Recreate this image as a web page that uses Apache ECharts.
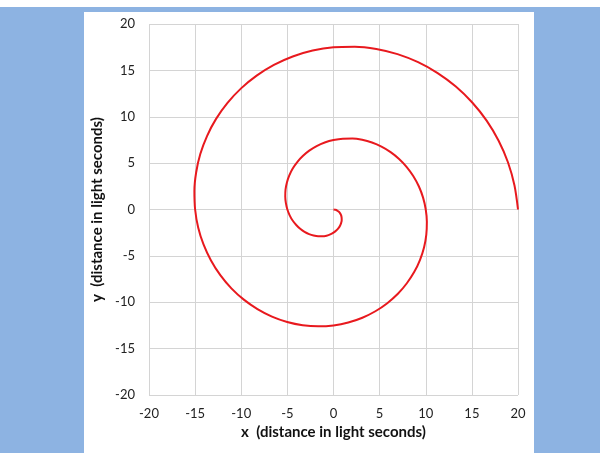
<!DOCTYPE html>
<html><head><meta charset="utf-8">
<script src="https://cdn.jsdelivr.net/npm/echarts@6/dist/echarts.min.js"></script>
<style>html,body{margin:0;padding:0;background:#fff;}#c{width:600px;height:453px;}</style>
</head><body><div id="c"></div>
<script>
// Spiral points (x, y in light seconds)
const xValues = [0,0.21,0.40,0.58,0.72,0.83,0.88,0.89,0.83,0.72,0.54,0.30,0,-0.35,-0.75,-1.20,-1.67,-2.16,-2.65,-3.14,-3.61,-4.04,-4.43,-4.75,-5,-5.16,-5.23,-5.20,-5.05,-4.79,-4.42,-3.93,-3.33,-2.63,-1.83,-0.95,0,1.01,2.05,3.11,4.17,5.20,6.19,7.11,7.94,8.66,9.26,9.71,10,10.12,10.06,9.82,9.38,8.76,7.95,6.98,5.83,4.54,3.13,1.60,0,-1.66,-3.34,-5.02,-6.67,-8.24,-9.72,-11.07,-12.27,-13.28,-14.09,-14.67,-15,-15.08,-14.89,-14.44,-13.71,-12.73,-11.49,-10.02,-8.33,-6.46,-4.42,-2.26,0,2.31,4.64,6.94,9.17,11.29,13.26,15.04,16.60,17.90,18.92,19.62,20];
const yValues = [0,-0.03,-0.11,-0.24,-0.42,-0.63,-0.88,-1.16,-1.44,-1.73,-2.01,-2.27,-2.5,-2.69,-2.82,-2.89,-2.89,-2.81,-2.65,-2.41,-2.08,-1.67,-1.19,-0.63,0,0.68,1.40,2.15,2.92,3.68,4.42,5.12,5.77,6.35,6.84,7.23,7.5,7.64,7.65,7.51,7.22,6.78,6.19,5.45,4.58,3.59,2.48,1.28,0,-1.33,-2.70,-4.07,-5.42,-6.72,-7.95,-9.09,-10.10,-10.97,-11.67,-12.19,-12.5,-12.60,-12.48,-12.13,-11.55,-10.74,-9.72,-8.50,-7.08,-5.50,-3.77,-1.93,0,1.99,3.99,5.98,7.92,9.77,11.49,13.06,14.43,15.59,16.50,17.14,17.5,17.56,17.31,16.75,15.88,14.71,13.26,11.54,9.58,7.41,5.07,2.58,0];
const xTicks = [-20,-15,-10,-5,0,5,10,15,20];
const yTicks = [-20,-15,-10,-5,0,5,10,15,20];
const xName = 'x  (distance in light seconds)';
const yName = 'y  (distance in light seconds)';

const points = xValues.map((x, i) => [x, yValues[i]]);
const chart = echarts.init(document.getElementById('c'));
const font = 'Lato, "Open Sans", sans-serif';
const axisCommon = (ticks) => ({
  type: 'value', min: ticks[0], max: ticks[ticks.length-1], interval: ticks[1]-ticks[0],
  axisLine: {show: false}, axisTick: {show: false},
  splitLine: {show: true, lineStyle: {color: '#d4d4d4', width: 1}},
  nameLocation: 'middle',
  nameTextStyle: {color: '#111', fontSize: 15, fontWeight: 'bold', fontFamily: font}
});
chart.setOption({
  animation: false,
  graphic: [
    {type: 'rect', z: -10, shape: {x: 0, y: 7, width: 600, height: 446}, style: {fill: '#8db3e2'}},
    {type: 'rect', z: -9, shape: {x: 84, y: 12, width: 450, height: 441}, style: {fill: '#ffffff'}}
  ],
  grid: {left: 149, right: 82, top: 24, bottom: 58, containLabel: false},
  xAxis: Object.assign(axisCommon(xTicks), {name: xName, nameGap: 30, axisLabel: {color: '#222', fontSize: 13, fontFamily: font, margin: 12}}),
  yAxis: Object.assign(axisCommon(yTicks), {name: yName, nameGap: 38, axisLabel: {color: '#222', fontSize: 13, fontFamily: font, margin: 14}}),
  series: [{
    type: 'line', data: points, smooth: 0.3, showSymbol: false,
    lineStyle: {color: '#e8191e', width: 2, join: 'round'}
  }]
});
</script></body></html>
